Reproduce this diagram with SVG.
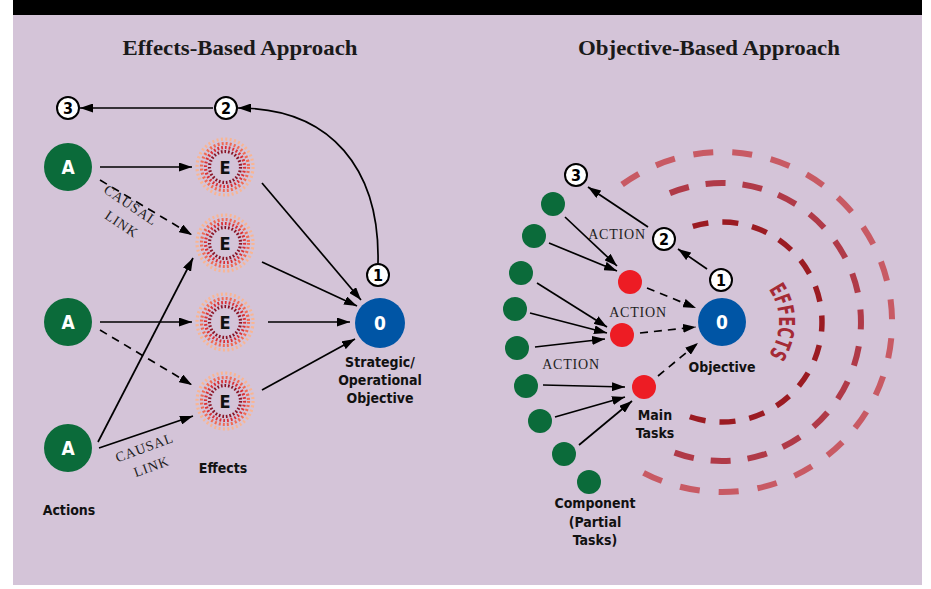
<svg xmlns="http://www.w3.org/2000/svg" width="931" height="589" viewBox="0 0 931 589">
  <style>
    .title { font-family: "Liberation Serif", serif; font-weight: bold; font-size: 21px; fill: #1a1a1a; text-anchor: middle; }
    .lbl { font-family: "Liberation Sans Narrow", "DejaVu Sans Condensed", sans-serif; font-weight: bold; font-size: 14px; fill: #111; text-anchor: middle; }
    .serif { font-family: "Liberation Serif", serif; font-size: 14px; fill: #1e1e1e; text-anchor: middle; letter-spacing: 0.8px; }
    .nodeTxt { font-family: "Liberation Sans Narrow", "DejaVu Sans Condensed", sans-serif; font-weight: bold; font-size: 19px; fill: #fff; text-anchor: middle; }
    .eTxt { font-family: "Liberation Sans Narrow", "DejaVu Sans Condensed", sans-serif; font-weight: bold; font-size: 18px; fill: #111; text-anchor: middle; }
    .numTxt { font-family: "Liberation Sans Narrow", "DejaVu Sans Condensed", sans-serif; font-weight: bold; font-size: 16px; fill: #000; text-anchor: middle; }
    .num { fill: #fff; stroke: #000; stroke-width: 2; }
    .act { fill: #0b6b3a; }
    .obj { fill: #0055a5; }
    .task { fill: #ed1c24; }
    .comp { fill: #0b6b3a; }
    .line { stroke: #000; stroke-width: 1.7; fill: none; marker-end: url(#arrow); }
    .dash { stroke-dasharray: 8 6; }
    .ring { fill: none; stroke-width: 3.2; }
  </style>
  <defs>
    <marker id="arrow" viewBox="0 0 13 9" refX="13" refY="4.5" markerWidth="13" markerHeight="9" markerUnits="userSpaceOnUse" orient="auto">
      <path d="M0,0 L13,4.5 L0,9 Z" fill="#000"/>
    </marker>
    <!-- radial tick rings of an effect node -->
    <g id="ering">
      <circle class="ring" r="28" stroke="#f9b592" stroke-dasharray="2 2.4"/>
      <circle class="ring" r="23.5" stroke="#f06a52" stroke-dasharray="2 2.1"/>
      <circle class="ring" r="19.5" stroke="#d93036" stroke-dasharray="1.8 2"/>
      <circle class="ring" r="15.5" stroke="#8a1426" stroke-dasharray="1.7 1.9"/>
    </g>
    <path id="effPath" d="M765.7,285.4 A57,57 0 0 1 765.7,358.6"/>
  </defs>

  <!-- panel -->
  <rect x="13" y="0" width="909" height="15" fill="#000"/>
  <rect x="13" y="15" width="909" height="570" fill="#d4c4d8"/>

  <text class="title" x="240" y="55" textLength="235" lengthAdjust="spacingAndGlyphs">Effects-Based Approach</text>
  <text class="title" x="709" y="55" textLength="262" lengthAdjust="spacingAndGlyphs">Objective-Based Approach</text>

  <!-- effect arcs around the objective -->
  <g id="effect-arcs" fill="none">
    <path d="M622.1,184.5 A170,170 0 1 1 637,469.2" stroke="#c85a64" stroke-width="6" stroke-dasharray="20 19"/>
    <path d="M669.9,193.1 A139,139 0 1 1 663.3,448" stroke="#b03a48" stroke-width="6" stroke-dasharray="20 17"/>
    <path d="M692.8,226.4 A100,100 0 1 1 681.3,413.4" stroke="#9b1b22" stroke-width="5.5" stroke-dasharray="16 14"/>
  </g>
  <text font-family="Liberation Sans Narrow, DejaVu Sans Condensed, sans-serif" font-weight="bold" font-size="22" fill="#a52a35">
    <textPath href="#effPath" startOffset="50%" text-anchor="middle" textLength="70" lengthAdjust="spacingAndGlyphs">EFFECTS</textPath>
  </text>

  <!-- connectors -->
  <g id="connectors">
    <!-- left: effects-based -->
    <path class="line" d="M213,108 L80,108"/>
    <path class="line" d="M378,263 C380,170 332,108 238,108"/>
    <path class="line" d="M100,167 L192,167"/>
    <path class="line dash" d="M100,180 L192,235"/>
    <path class="line" d="M100,322 L192,322"/>
    <path class="line dash" d="M100,330 L192,385"/>
    <path class="line" d="M98,442 L193,258"/>
    <path class="line" d="M99,448 L193,416"/>
    <path class="line" d="M262,183 L361,300"/>
    <path class="line" d="M262,262 L357,306"/>
    <path class="line" d="M268,322 L350,322"/>
    <path class="line" d="M262,390 L355,339"/>
    <!-- right: objective-based -->
    <path class="line" d="M707,269 L678,249"/>
    <path class="line" d="M648,227 L588,187"/>
    <path class="line" d="M565,217 L617,266"/>
    <path class="line" d="M549,243 L617,271"/>
    <path class="line" d="M537,283 L607,327"/>
    <path class="line" d="M530,313 L607,333"/>
    <path class="line" d="M535,347 L605,339"/>
    <path class="line" d="M543,385 L625,387"/>
    <path class="line" d="M555,417 L625,397"/>
    <path class="line" d="M579,445 L632,401"/>
    <path class="line dash" d="M647,288 L696,308"/>
    <path class="line dash" d="M640,333 L696,327"/>
    <path class="line dash" d="M658,376 L698,343"/>
  </g>

  <!-- connector labels -->
  <text class="serif" transform="translate(128,209) rotate(34)">CAUSAL</text>
  <text class="serif" transform="translate(119,228) rotate(34)">LINK</text>
  <text class="serif" transform="translate(146,452) rotate(-20)">CAUSAL</text>
  <text class="serif" transform="translate(153,471) rotate(-20)">LINK</text>
  <text class="serif" x="617" y="239">ACTION</text>
  <text class="serif" x="638" y="317">ACTION</text>
  <text class="serif" x="571" y="369">ACTION</text>

  <!-- left nodes -->
  <g id="step3-left"><circle class="num" cx="68" cy="108" r="11"/><text class="numTxt" x="68" y="114">3</text></g>
  <g id="step2-left"><circle class="num" cx="226" cy="108" r="11"/><text class="numTxt" x="226" y="114">2</text></g>
  <g id="step1-left"><circle class="num" cx="378" cy="275" r="11"/><text class="numTxt" x="378" y="281">1</text></g>

  <g id="action1"><circle class="act" cx="68" cy="167" r="24"/><text class="nodeTxt" x="68" y="174">A</text></g>
  <g id="action2"><circle class="act" cx="68" cy="322" r="24"/><text class="nodeTxt" x="68" y="329">A</text></g>
  <g id="action3"><circle class="act" cx="68" cy="448" r="24"/><text class="nodeTxt" x="68" y="455">A</text></g>

  <g id="effect1"><use href="#ering" x="225" y="167"/><text class="eTxt" x="225" y="173.5">E</text></g>
  <g id="effect2"><use href="#ering" x="225" y="243"/><text class="eTxt" x="225" y="249.5">E</text></g>
  <g id="effect3"><use href="#ering" x="225" y="322"/><text class="eTxt" x="225" y="328.5">E</text></g>
  <g id="effect4"><use href="#ering" x="225" y="401"/><text class="eTxt" x="225" y="407.5">E</text></g>

  <g id="objective-left"><circle class="obj" cx="380" cy="323" r="25"/><text class="nodeTxt" x="380" y="330">0</text></g>

  <text class="lbl" x="380" y="367">Strategic/</text>
  <text class="lbl" x="380" y="385">Operational</text>
  <text class="lbl" x="380" y="403">Objective</text>
  <text class="lbl" x="223" y="473">Effects</text>
  <text class="lbl" x="69" y="515">Actions</text>

  <!-- right nodes -->
  <g id="step3-right"><circle class="num" cx="576" cy="175" r="11"/><text class="numTxt" x="576" y="181">3</text></g>
  <g id="step2-right"><circle class="num" cx="664" cy="239" r="11"/><text class="numTxt" x="664" y="245">2</text></g>
  <g id="step1-right"><circle class="num" cx="721" cy="280" r="11"/><text class="numTxt" x="721" y="286">1</text></g>

  <g id="objective-right"><circle class="obj" cx="722" cy="322" r="24"/><text class="nodeTxt" x="722" y="329">0</text></g>

  <g id="task1"><circle class="task" cx="630" cy="282" r="12"/></g>
  <g id="task2"><circle class="task" cx="622" cy="335" r="12"/></g>
  <g id="task3"><circle class="task" cx="644" cy="387" r="12"/></g>

  <g id="comp1"><circle class="comp" cx="553" cy="204" r="12"/></g>
  <g id="comp2"><circle class="comp" cx="534" cy="236" r="12"/></g>
  <g id="comp3"><circle class="comp" cx="521" cy="273" r="12"/></g>
  <g id="comp4"><circle class="comp" cx="515" cy="309" r="12"/></g>
  <g id="comp5"><circle class="comp" cx="517" cy="348" r="12"/></g>
  <g id="comp6"><circle class="comp" cx="526" cy="386" r="12"/></g>
  <g id="comp7"><circle class="comp" cx="540" cy="421" r="12"/></g>
  <g id="comp8"><circle class="comp" cx="564" cy="454" r="12"/></g>
  <g id="comp9"><circle class="comp" cx="589" cy="482" r="12"/></g>

  <text class="lbl" x="722" y="372">Objective</text>
  <text class="lbl" x="655" y="420">Main</text>
  <text class="lbl" x="655" y="438">Tasks</text>
  <text class="lbl" x="595" y="508">Component</text>
  <text class="lbl" x="595" y="527">(Partial</text>
  <text class="lbl" x="595" y="545">Tasks)</text>
</svg>
